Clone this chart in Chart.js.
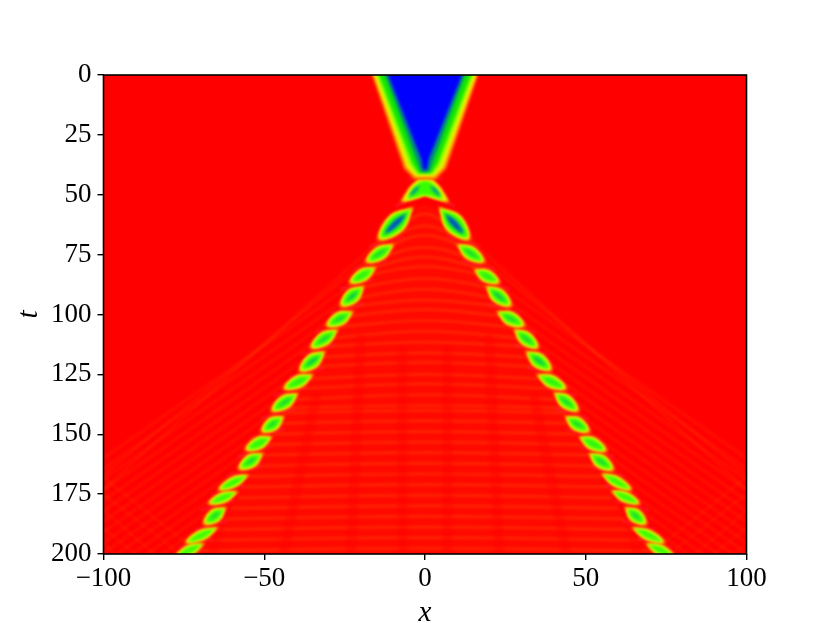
<!DOCTYPE html>
<html>
<head>
<meta charset="utf-8">
<style>
  html, body { margin: 0; padding: 0; background: #fff; }
  #wrap { width: 830px; height: 623px; }
</style>
<script src="https://cdn.jsdelivr.net/npm/chart.js@4/dist/chart.umd.min.js"></script>
</head>
<body>
<div id="wrap"><canvas id="myChart"></canvas></div>
<script>
const xTicks = [-100, -50, 0, 50, 100];
const tTicks = [0, 25, 50, 75, 100, 125, 150, 175, 200];

// solitons along the left and right branch: end points and thickness
const leftX1 = [-4.1, -10, -15.6, -19.3, -22.7, -27.4, -31.4, -35.1, -39.8, -44.2, -47.9, -50.7, -55.1, -58.5, -62.2, -64.7, -69];
const leftT1 = [55.7, 71, 80.6, 88.5, 99, 106.5, 115.7, 125.3, 133.2, 142.8, 151.2, 158.2, 167, 174.1, 180.8, 189.1, 195.8];
const leftX2 = [-14, -17.9, -23, -25.8, -30.2, -35.1, -38.6, -43.5, -47.3, -50.4, -55.4, -57.5, -63.8, -66.9, -68.4, -74, -77.1];
const leftT2 = [68.2, 77.7, 86.4, 96, 104.4, 113.6, 123.2, 130.7, 139.9, 148.6, 156.2, 164.1, 172.9, 178.7, 187.1, 195, 200.8];
const rightX1 = [4.7, 10.3, 15.6, 19.3, 22.7, 28, 31.7, 35.1, 40.4, 43.9, 48.2, 51.3, 55.1, 58.2, 62.5, 64.7, 69];
const rightT1 = [55.7, 71, 81.4, 88.5, 99, 106.5, 115.7, 125.3, 132.8, 142.8, 151.2, 158.2, 166.6, 173.7, 180.8, 189.1, 195.8];
const rightX2 = [13.4, 18, 22.7, 26.4, 30.5, 34.8, 38.9, 43.5, 47.3, 50.7, 56, 58.2, 63.8, 66.3, 68.4, 74, 77.1];
const rightT2 = [68.2, 77.7, 86.4, 96, 104.4, 113.6, 122.8, 130.7, 139.9, 148.6, 156.6, 164.5, 172.9, 178.7, 187.1, 195, 200.8];
const blobWide = [18, 12, 11, 13, 12, 12, 13, 11, 12, 12, 11, 12, 9, 9, 12, 9, 9];

// the blue wedge at the top: half width at t=0, half width at the knee, knee t, apex t
const wedgeTop = [17.2, 16.6, 16, 15.2, 13.2, 12.4];
const wedgeKnee = [6.5, 5.6, 5, 4, 2.5, 1.2];
const wedgeKneeT = [39, 38.5, 38, 37, 36, 35];
const wedgeApexT = [43.5, 42.3, 41.6, 41, 40.5, 39.5];

// the dome under the wedge
const domeX = [-2, 2, 4.5, 7, 3, 0, -3, -7, -4.5, -2];
const domeT = [43.8, 43.8, 47, 52.8, 51.5, 50.2, 51.5, 52.8, 47, 43.8];
const domeMidX = [0, 0];
const domeMidT = [44.5, 50];
const archX = [-9, -4, 0, 4, 9];
const archT = [54.5, 52, 50.6, 52, 54.5];
const pinchX = [-5, 0, 5];
const pinchT = [43.3, 42.6, 43.3];

// orange ripples between the branches
const rippleT = [58, 63, 67, 72, 76, 80, 85, 89.5, 94, 98, 102.5, 107, 111.5, 116, 120, 125, 129, 133.5, 138, 140, 144.4, 148.9, 153.3, 157.7, 162.2, 166.6, 171, 175.5, 179.9, 184.3, 188.8, 193.2, 197.6];
const rippleHalf = [7, 11, 13, 16, 18, 20, 22, 24, 26, 27, 29, 31, 33, 35, 37, 38, 40, 42, 44, 44, 46, 47, 49, 51, 53, 55, 57, 58, 60, 62, 65, 67, 70];
const rippleDrop = [4, 5, 5, 5, 5, 4, 4, 4, 3, 3, 3, 3, 2, 2, 2, 2, 2, 2, 1, 1, 1, 1, 1, 1, 1, 1, 1, 1, 1, 1, 1, 1, 1];
const insideX = [0, -8, -14, -22, -27, -38, -47, -58, -72];
const insideT = [54, 58, 65, 85, 100, 125, 150, 175, 200];

// darker vertical bands that cut the ripples
const bandX1 = [7, 20, 34, 62];
const bandT1 = [115, 110, 135, 176];
const bandX2 = [7, 23, 44, 66];
const bandT2 = [200, 200, 200, 200];

// faint radiation outside the branches, written for the left side
const rayX0 = [-14, -16, -18, -22.2, -26.3, -30.5, -34.6, -38.8, -42.9, -47, -51.2, -55.4, -59.5, -63.6, -67.8, -72, -76];
const rayT0 = [69, 75, 83, 91.3, 99.6, 107.9, 116.2, 124.5, 132.8, 141.1, 149.4, 157.7, 166, 174.3, 182.6, 190.9, 199.2];
const rayT1 = [173, 167, 160, 164.4, 168.8, 173.2, 177.6, 182, 186.4, 190.8, 195.2, 199.6, 204, 208.4, 212.8, 217.2, 221.6];
const latticeT0 = [168, 175, 182, 189, 196];
const latticeX1 = [-70, -76, -84, -90, -96];

const xPx = 643 / 200;
const tPx = 479 / 200;
const blobLayers = [
  { grow: 2.5, color: "rgba(255,140,0,0.6)" },
  { grow: 0.6, color: "#ffee00" },
  { grow: -1, color: "#b0ff00" },
  { grow: -3.5, color: "#38ff00" },
  { grow: -10.5, color: "#00b070" },
  { grow: -14, color: "#0048c8" },
];
const wedgeColors = ["#ff9000", "#ffee00", "#a0ff00", "#10e800", "#008c80", "#0000ff"];
const pink = "rgba(255,35,70,0.6)";

const area = (points, color, tension) => ({
  data: points,
  showLine: true,
  pointRadius: 0,
  borderWidth: 0,
  backgroundColor: color,
  fill: "shape",
  tension: tension || 0,
});
const stroke = (points, color, width, tension) => ({
  data: points,
  showLine: true,
  pointRadius: 0,
  borderColor: color,
  borderWidth: width,
  borderCapStyle: "round",
  fill: false,
  tension: tension || 0,
});
const zip = (xs, ts) => xs.map((x, i) => ({ x: x, y: ts[i] }));

// lens shape around a soliton, grown or shrunk in pixels
function lens(x1, t1, x2, t2, wide, grow) {
  const w = wide + grow;
  if (w <= 0) return null;
  const dx = (x2 - x1) * xPx;
  const dt = (t2 - t1) * tPx;
  const len = Math.hypot(dx, dt);
  const half = Math.max(len / 2 + grow * (grow > 0 ? 1.4 : 0.6), w * 0.6);
  const ux = dx / len;
  const ut = dt / len;
  const mx = (x1 + x2) / 2;
  const mt = (t1 + t2) / 2;
  const at = (a, b) => ({
    x: mx + (ux * a - ut * b) / xPx,
    y: mt + (ut * a + ux * b) / tPx,
  });
  const tip = at(-half, 0);
  return [tip, at(0, w / 2), at(half, 0), at(0, -w / 2), tip];
}

const layers = []; // bottom layer first

const insideL = zip(insideX, insideT);
const insideR = insideL.slice().reverse().map((p) => ({ x: -p.x, y: p.y }));
layers.push(area(insideL.concat(insideR), "rgba(255,40,0,0.22)"));

rippleT.forEach((t, i) => {
  const h = rippleHalf[i];
  const d = rippleDrop[i];
  layers.push(stroke(zip([-h, 0, h], [t + d, t, t + d]), "rgba(255,125,0,0.32)", 2.2, 0.4));
});

bandX1.forEach((x, i) => {
  [1, -1].forEach((side) => {
    layers.push(stroke(zip([side * x, side * bandX2[i]], [bandT1[i], bandT2[i]]), "rgba(255,0,0,0.4)", 10));
  });
});

rayX0.forEach((x, i) => {
  [1, -1].forEach((side) => {
    layers.push(stroke(zip([side * x, side * -100], [rayT0[i], rayT1[i]]), "rgba(255,110,0,0.2)", 2));
  });
});
latticeT0.forEach((t, i) => {
  [1, -1].forEach((side) => {
    layers.push(stroke(zip([side * -100, side * latticeX1[i]], [t, 200]), "rgba(255,110,0,0.14)", 2));
  });
});

// pink streaks in the gaps between neighbouring solitons
const streak = (x2s, t2s, x1s, t1s, side) => {
  x2s.slice(0, -1).forEach((x, i) => {
    const mx = (x + x1s[i + 1]) / 2;
    const mt = (t2s[i] + t1s[i + 1]) / 2;
    layers.push(stroke(zip([mx - side * 5, mx + side * 5], [mt - 2, mt + 2]), pink, 2.5));
  });
};
streak(leftX2, leftT2, leftX1, leftT1, -1);
streak(rightX2, rightT2, rightX1, rightT1, 1);
layers.push(stroke(zip(archX, archT), pink, 2.5, 0.4));
layers.push(stroke(zip(pinchX, pinchT), pink, 2.5, 0.4));

blobLayers.forEach((layer) => {
  blobWide.forEach((wide, i) => {
    const l = lens(leftX1[i], leftT1[i], leftX2[i], leftT2[i], wide, layer.grow);
    const r = lens(rightX1[i], rightT1[i], rightX2[i], rightT2[i], wide, layer.grow);
    if (l) layers.push(area(l, layer.color, 0.4));
    if (r) layers.push(area(r, layer.color, 0.4));
  });
});

// dome, shrunk towards its middle for the inner colours
[[1.08, "#ff9000"], [1, "#ffee00"], [0.88, "#b0ff00"], [0.76, "#38ff00"]].forEach(([k, color]) => {
  layers.push(area(zip(domeX.map((x) => x * k), domeT.map((t) => 48 + (t - 48) * k)), color, 0.15));
});
layers.push(area(lens(-1.5, 46, -4.8, 50.5, 4, 0), "#00a080", 0.4));
layers.push(area(lens(1.5, 46, 4.8, 50.5, 4, 0), "#00a080", 0.4));
layers.push(stroke(zip(domeMidX, domeMidT), "#38ff00", 2));

wedgeTop.forEach((top, i) => {
  const k = wedgeKnee[i];
  const kt = wedgeKneeT[i];
  const apex = wedgeApexT[i];
  layers.push(area(zip([-top, top, k, k * 0.5, -k * 0.5, -k, -top], [-3, -3, kt, apex, apex, kt, -3]), wedgeColors[i]));
});

const fieldPlugin = {
  id: "field",
  beforeDatasetsDraw(chart) {
    const { ctx, chartArea: a } = chart;
    ctx.fillStyle = "#ff0000";
    ctx.fillRect(a.left, a.top, a.width, a.height);
    ctx.filter = "blur(1.4px)";
  },
  afterDatasetsDraw(chart) {
    chart.ctx.filter = "none";
  },
  afterDraw(chart) {
    const { ctx, chartArea: a } = chart;
    ctx.save();
    ctx.strokeStyle = "#000";
    ctx.lineWidth = 1.6;
    ctx.strokeRect(a.left, a.top, a.width, a.height);
    ctx.restore();
  },
};

const tickFont = { family: "'Liberation Serif'", size: 27 };
const titleFont = { family: "'Liberation Serif'", size: 29, style: "italic", lineHeight: 1 };

new Chart(document.getElementById("myChart").getContext("2d"), {
  type: "scatter",
  data: { datasets: layers.reverse() },
  plugins: [fieldPlugin],
  options: {
    responsive: true,
    maintainAspectRatio: false,
    animation: false,
    layout: { padding: { top: 75, right: 83.5, left: 0, bottom: 0 } },
    plugins: { legend: { display: false }, tooltip: { enabled: false } },
    scales: {
      x: {
        type: "linear",
        min: -100,
        max: 100,
        border: { display: false },
        grid: { drawOnChartArea: false, color: "#000", lineWidth: 1.4, tickLength: 6 },
        afterBuildTicks: (axis) => { axis.ticks = xTicks.map((v) => ({ value: v })); },
        afterFit: (axis) => { axis.height = 69; },
        ticks: {
          color: "#000",
          font: tickFont,
          padding: 3,
          maxRotation: 0,
          callback: (v) => String(v).replace("-", "\u2212"),
        },
        title: { display: true, text: "x", color: "#000", font: titleFont, padding: { top: 0, bottom: -5 } },
      },
      y: {
        type: "linear",
        min: 0,
        max: 200,
        reverse: true,
        border: { display: false },
        grid: { drawOnChartArea: false, color: "#000", lineWidth: 1.4, tickLength: 6 },
        afterBuildTicks: (axis) => { axis.ticks = tTicks.map((v) => ({ value: v })); },
        afterFit: (axis) => { axis.width = 103.5; },
        ticks: { color: "#000", font: tickFont, padding: 6 },
        title: { display: true, text: "t", color: "#000", font: titleFont, padding: { top: 15, bottom: 0 } },
      },
    },
  },
});
</script>
</body>
</html>
